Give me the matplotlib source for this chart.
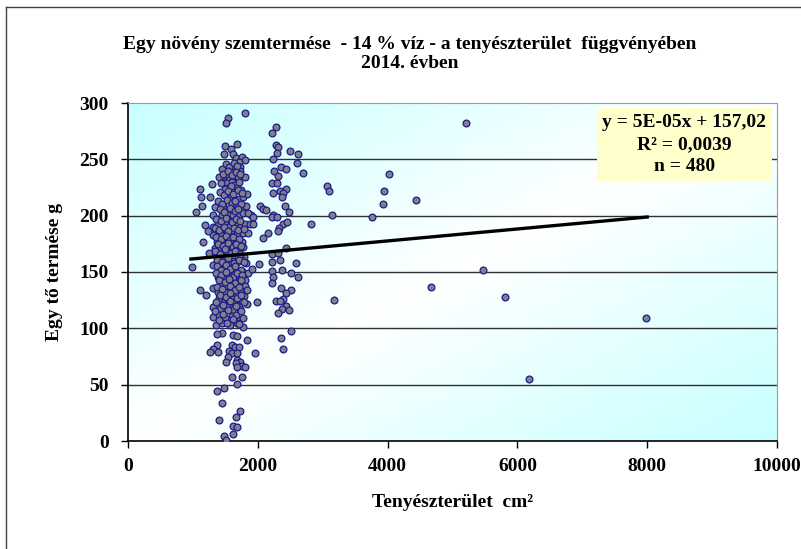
import numpy as np
import matplotlib
matplotlib.use("Agg")
import matplotlib.pyplot as plt
import matplotlib.ticker as ticker
from matplotlib.lines import Line2D
from matplotlib.patches import Rectangle

plt.rcParams['font.family'] = ['Liberation Serif', 'DejaVu Serif']
plt.rcParams['font.weight'] = 'bold'

# 主簇 (1000-1900 cm2)
main_x = [1541, 1510, 1803, 1495, 1680, 1587, 1479, 1618, 1664, 1757, 1803, 1710, 1726, 1726,
          1448, 1587, 1572, 1402, 1495, 1556, 1618, 1556, 1649, 1695, 1803, 1294, 1464, 1525,
          1602, 1633, 1541, 1618, 1680, 1495, 1741, 1109, 1125, 1263, 1140, 1340, 1464, 1572,
          1587, 1649, 1710, 1772, 1834, 1680, 1757, 1818, 1895, 1310, 1448, 1541, 1618, 1710,
          1772, 1849, 1186, 1310, 1387, 1495, 1572, 1649, 1726, 1803, 1880, 1310, 1417, 1525,
          1602, 1680, 1772, 1849, 1155, 1371, 1464, 1572, 1680, 1757, 1340, 1417, 1495, 1602,
          1695, 1772, 1248, 1371, 1448, 1541, 1618, 1695, 1787, 1310, 1417, 1495, 1602, 1680,
          1757, 1818, 986, 1448, 1525, 1602, 1695, 1772, 1849, 1387, 1464, 1572, 1649, 1726,
          1803, 1448, 1525, 1618, 1695, 1803, 1310, 1109, 1202, 1387, 1495, 1602, 1726, 1834,
          1787, 1402, 1495, 1541, 1618, 1695, 1757, 1834, 1310, 1417, 1525, 1602, 1726, 1310,
          1402, 1495, 1602, 1680, 1772, 1356, 1448, 1572, 1680, 1772, 1448, 1371, 1618, 1680,
          1834, 1371, 1310, 1263, 1387, 1602, 1649, 1710, 1556, 1602, 1680, 1541, 1510, 1680,
          1726, 1664, 1757, 1803, 1680, 1602, 1757, 1680, 1371, 1479, 1448, 1726, 1664, 1402,
          1618, 1680, 1618, 1479, 1510, 1911, 1926, 1926, 1988, 1957, 2018, 2034, 1050, 1230]
main_y = [287, 282, 291, 262, 264, 259, 255, 255, 251, 252, 249, 248, 243, 240,
          241, 242, 240, 234, 234, 235, 232, 232, 235, 234, 234, 228, 230, 229,
          230, 227, 225, 225, 225, 224, 223, 224, 217, 217, 209, 208, 209, 215,
          217, 214, 215, 217, 219, 208, 208, 209, 201, 201, 201, 201, 201, 201,
          202, 202, 192, 190, 192, 193, 191, 193, 190, 193, 193, 183, 185, 186,
          182, 184, 185, 185, 177, 177, 176, 178, 176, 177, 171, 172, 170, 171,
          170, 172, 167, 165, 163, 167, 165, 163, 163, 156, 158, 161, 158, 159,
          161, 158, 154, 152, 150, 153, 151, 150, 149, 146, 145, 146, 143, 145,
          143, 139, 138, 140, 138, 138, 136, 134, 130, 132, 132, 131, 133, 134,
          129, 127, 125, 126, 123, 126, 124, 122, 119, 117, 119, 116, 117, 110,
          112, 109, 111, 108, 109, 103, 105, 103, 105, 101, 96, 95, 94, 93,
          90, 85, 82, 79, 79, 85, 83, 83, 80, 78, 78, 75, 70, 72,
          70, 69, 67, 66, 66, 57, 57, 51, 44, 47, 34, 27, 21, 19,
          13, 12, 6, 4, 1, 153, 199, 193, 123, 78, 157, 209, 203, 186]

# 主簇内部重叠的点 (估计)
core_x = [1505, 1552, 1628, 1684, 1466, 1537, 1596, 1671, 1733, 1428, 1583, 1709,
          1417, 1486, 1548, 1611, 1697, 1752, 1392, 1443, 1526, 1604, 1652, 1746,
          1425, 1484, 1573, 1645, 1694, 1363, 1437, 1514, 1597, 1668, 1732,
          1346, 1405, 1478, 1543, 1626, 1693, 1781, 1352, 1433, 1507, 1566, 1621, 1716,
          1386, 1468, 1534, 1615, 1657, 1744, 1335, 1413, 1494, 1588, 1643, 1727,
          1366, 1455, 1547, 1636, 1718, 1784, 1375, 1427, 1503, 1567, 1655, 1736,
          1354, 1436, 1516, 1614, 1686, 1762, 1397, 1493, 1563, 1653, 1745,
          1365, 1447, 1576, 1644, 1714, 1415, 1507, 1568, 1676, 1737,
          1358, 1463, 1574, 1667, 1785, 1347, 1465, 1536, 1657, 1735, 1405, 1518, 1625, 1716]
core_y = [246, 243, 247, 244, 237, 240, 236, 239, 237, 229, 226, 230,
          221, 218, 222, 219, 223, 220, 213, 210, 214, 211, 213, 210,
          206, 203, 207, 204, 206, 197, 195, 198, 194, 197, 195,
          189, 187, 190, 186, 189, 187, 188, 181, 179, 182, 178, 181, 179,
          175, 173, 176, 172, 175, 173, 169, 166, 170, 167, 169, 166,
          161, 159, 162, 158, 161, 159, 155, 152, 156, 153, 155, 152,
          149, 147, 150, 146, 149, 147, 143, 141, 144, 140, 143,
          137, 135, 138, 134, 137, 130, 128, 131, 127, 130,
          123, 121, 124, 120, 123, 115, 113, 116, 112, 115, 107, 105, 108, 104]

# 第二簇 (2000-2900 cm2)
second_x = [2280, 2219, 2280, 2311, 2296, 2234, 2250, 2357, 2434, 2311, 2219, 2296, 2434,
            2342, 2388, 2373, 2234, 2419, 2080, 2126, 2234, 2481, 2219, 2296, 2388, 2450,
            2326, 2157, 2080, 2311, 2434, 2219, 2311, 2219, 2342, 2588, 2219, 2373, 2511,
            2234, 2619, 2219, 2357, 2511, 2434, 2388, 2280, 2342, 2434, 2373, 2311, 2481,
            2511, 2357, 2388, 2619, 2604, 2496, 2696, 2820]
second_y = [279, 273, 263, 261, 256, 250, 240, 243, 241, 235, 229, 229, 224,
            222, 220, 217, 220, 209, 206, 205, 201, 203, 199, 199, 193, 194,
            189, 185, 180, 186, 171, 166, 167, 159, 161, 158, 151, 152, 149,
            146, 146, 140, 136, 134, 131, 126, 124, 124, 120, 117, 114, 116,
            98, 91, 82, 255, 247, 257, 238, 193]

# 离群点
outlier_x = [3066, 3097, 3143, 3174, 3760, 3929, 3945, 4022, 4438, 4669, 5208, 5470, 5809, 6179, 7981]
outlier_y = [226, 222, 201, 125, 199, 210, 222, 237, 214, 137, 282, 152, 128, 55, 109]

# 趋势线 (按图读取端点)
trend_x = [970, 8000]
trend_y = [161.5, 198.8]

eq_lines = ["y = 5E-05x + 157,02", "R² = 0,0039", "n = 480"]

all_x = main_x + core_x + second_x + outlier_x
all_y = main_y + core_y + second_y + outlier_y

fig = plt.figure(figsize=(8.01, 5.49), dpi=100)
ax = fig.add_axes([128 / 801, 1 - 441 / 549, 649 / 801, 338 / 549])

# 渐变背景: 左上/右下 青色, 中间白色
n = 200
u, v = np.meshgrid(np.linspace(0, 1, n), np.linspace(0, 1, n))
t = np.abs((u + v) / 2 - 0.5) * 2
cyan = np.array([0.78, 1.0, 1.0])
img = (1 - t[..., None]) * np.ones(3) + t[..., None] * cyan
ax.imshow(img, extent=[0, 10000, 0, 300], origin='upper', aspect='auto', zorder=0)

ax.set_xlim(0, 10000)
ax.set_ylim(0, 300)
ax.yaxis.set_major_locator(ticker.MultipleLocator(50))
ax.xaxis.set_major_locator(ticker.MultipleLocator(2000))
for yv in range(50, 300, 50):
    ax.axhline(yv, color='#303030', lw=1.0, zorder=1)

ax.scatter(all_x, all_y, s=24, facecolor='#80808c', edgecolor='#1c1c8a', linewidths=0.9, zorder=3)
ax.plot(trend_x, trend_y, color='black', lw=2.4, zorder=4)

for side in ['top', 'right']:
    ax.spines[side].set_color('#999999')
for side in ['left', 'bottom']:
    ax.spines[side].set_color('black')
    ax.spines[side].set_linewidth(1.2)
ax.tick_params(axis='both', direction='out', length=5, width=1, labelsize=14)
ax.tick_params(axis='y', pad=9)
ax.tick_params(axis='x', pad=7)
for lab in ax.get_xticklabels() + ax.get_yticklabels():
    lab.set_fontweight('bold')

ax.set_xlabel("Tenyészterület  cm²", fontsize=14, fontweight='bold', labelpad=14)
ax.set_ylabel("Egy tő termése g", fontsize=14, fontweight='bold', labelpad=12)

# 方程框
ax.add_patch(Rectangle((0.7227, 0.769), 0.2693, 0.216, transform=ax.transAxes,
                       facecolor='#ffffcc', edgecolor='none', zorder=5))
for line, yy in zip(eq_lines, [0.941, 0.876, 0.811]):
    ax.text(0.857, yy, line, transform=ax.transAxes, ha='center', va='center',
            fontsize=14, fontweight='bold', zorder=6)

fig.text(410 / 801, 1 - 54 / 549, "Egy növény szemtermése  - 14 % víz - a tenyészterület  függvényében\n2014. évben",
         ha='center', va='center', fontsize=14, fontweight='bold', linespacing=1.2)

# 外框 (左, 上)
fig.add_artist(Line2D([6 / 801, 6 / 801], [0, 1 - 7 / 549], color='#404040', lw=1))
fig.add_artist(Line2D([6 / 801, 1], [1 - 7 / 549, 1 - 7 / 549], color='#404040', lw=1))

fig.savefig("out.png", dpi=100)
